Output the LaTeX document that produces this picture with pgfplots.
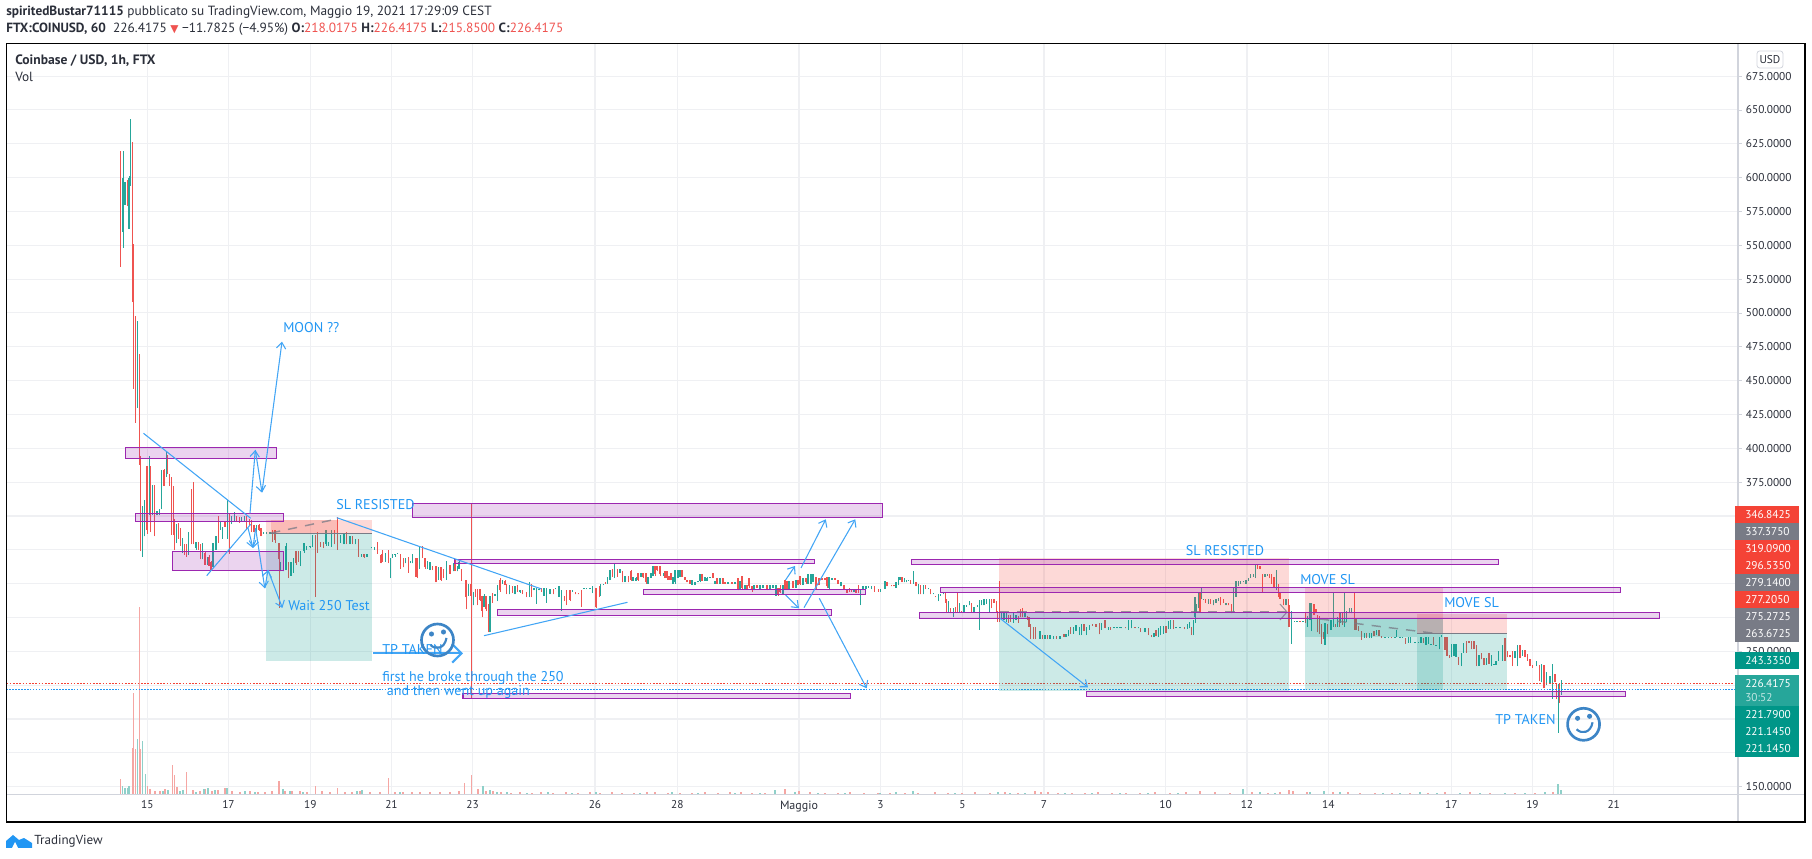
\documentclass[border=0pt]{standalone}
\usepackage{pgfplots}
\pgfplotsset{compat=1.18}
\usepackage{pgfplotstable}
\usepackage{fontspec}
\usetikzlibrary{arrows.meta}
\setmainfont{PT Sans}
\newfontfamily\sym{DejaVu Sans}
\definecolor{up}{HTML}{26A69A}
\definecolor{dn}{HTML}{EF5350}
\definecolor{tvb}{HTML}{42A5F5}
\definecolor{tvt}{HTML}{2196F3}
\definecolor{pur}{HTML}{9C27B0}
\definecolor{gridc}{HTML}{EFF0F3}
\definecolor{axc}{HTML}{D1D4DC}
\definecolor{txt}{HTML}{2A2E39}
\definecolor{tagr}{HTML}{F44336}
\definecolor{tagg}{HTML}{787B86}
\definecolor{tagt}{HTML}{009688}
\definecolor{tagl}{HTML}{26A69A}
\definecolor{smile}{HTML}{3D85C6}
\definecolor{posr}{HTML}{F44336}
\definecolor{post}{HTML}{009688}
\definecolor{grayl}{HTML}{787B86}
\definecolor{volr}{HTML}{F5A6A3}
\definecolor{volt}{HTML}{8FD0C9}

\pgfplotstableread{
x o h l c
120.5 620 620 534 535
123 560 620 548 600
125 580 597 580 597
127.5 597 598 579 579
129 562 601 562 600
130 595 643 594 600
132.4 552 626 508 508
133.6 551 551 444 444
135.5 498 498 419 420
137.4 431 494 430 494
139.3 394 470 388 388
140.3 394 394 324 345
142.3 336 357 320 357
144.7 335 362 335 360
147 387 387 337 340
149.3 351 394 351 394
150.7 387 387 338 340
152.7 351 373 351 373
154.7 373 373 335 340
157 351 354 351 354
159.3 351 355 351 355
161.7 355 384 355 384
164 384 385 372 372
166.3 380 398 379 398
167.7 395 395 381 381
169.7 381 381 372 372
171.7 379 379 336 372
173.3 372 372 336 345
174.3 348 348 325 330
176.3 330 344 330 344
178.3 344 345 333 334
180.7 340 341 328 329
182.7 324 334 323 334
184.7 329 329 321 322
186.7 329 329 320 321
188.7 322 338 321 338
191.7 370 370 329 335
193.3 375 375 329 340
196 326 331 325 331
198.3 331 331 325 326
200.7 329 329 318 318
202.7 318 330 318 330
205 323 324 314 314
207.3 314 320 314 320
209 320 321 313 313
211 316 317 310 310
213 312 330 312 330
216 325 335 325 335
218.3 350 350 330 332
220.3 340 346 340 346
222.3 333 342 333 342
225 346 346 342 342
227.7 335 362 333 352
229.3 352 352 322 335
231.7 344 350 344 350
234.3 346 353 346 353
236.7 350 350 346 346
239.3 349 349 345 345
241.7 346 349 346 349
244.3 346 350 346 350
246.7 350 350 340 340
249.3 348 348 343 343
251.7 347 347 338 340
254 343 343 338 338
256.7 338 343 338 343
259 343 344 339 340
261 341 341 335 335
263.3 337 338 337 338
266.7 337 338 337 338
270 337 338 337 338
272.7 340 340 331 333
275 340 340 330 332
279 330 330 282 318
280.7 309 316 309 316
283.3 309 316 309 316
286 310 330 310 328
288.3 316 316 304 305
291 306 316 306 316
293.3 308 319 308 319
296 324 324 314 315
298.3 324 324 316 317
300.7 313 324 313 324
304 324 330 323 330
306.7 325 328 325 328
310 327 328 326 328
312.7 327 336 327 336
315.3 336 336 290 328
317.3 338 338 323 329
320.7 330 331 327 328
323.3 330 331 326 327
326 329 340 328 340
328.3 328 331 328 331
331.7 328 340 327 339
334.3 340 340 329 330
337.3 349 349 325 330
340.7 330 336 330 335
344 329 337 329 337
346.7 337 338 329 330
350 329 335 329 335
352.7 335 335 329 330
355.7 329 333 329 333
358.7 333 333 320 325
361.7 320 322 320 322
364 322 322 319 320
367 320 322 320 322
371.7 326 327 326 327
374.7 326 327 325 326
377.3 331 331 322 323
381 321 322 315 315
382.7 325 325 316 317
385.7 316 323 316 323
388.3 325 325 315 316
390.3 304 319 304 319
392.3 319 322 319 322
395 321 322 320 322
397.7 322 323 322 323
400.7 322 322 311 311
403.3 319 319 312 312
405.7 315 319 315 319
408.3 320 320 308 309
410.3 316 317 315 317
412.7 315 322 315 322
415.3 319 319 305 305
417 319 319 304 305
419.7 311 328 311 328
422.3 328 328 319 320
425 319 319 311 312
427.3 311 317 311 317
430 310 316 310 316
432.3 313 313 310 310
436 313 313 301 301
438.3 303 312 303 312
441 312 312 302 303
443.3 311 311 304 304
446.7 303 317 303 317
450 314 314 307 307
453.3 309 315 309 315
455 318 318 309 309
457.3 309 313 309 313
459 311 317 311 316
461.7 310 311 302 302
466 303 303 281 290
468.3 291 300 291 300
471 300 359 215 291
473.3 284 294 284 293
475.3 296 296 290 290
477.3 296 296 284 285
480 296 296 287 288
482 291 291 275 280
484 283 292 283 291
486 291 291 280 281
488.3 285 285 264 270
490 264 291 264 291
492.7 292 293 286 287
495 291 292 291 292
497.3 287 299 287 299
500 303 304 294 295
502.7 300 303 300 303
505 302 303 299 299
506.7 300 300 292 293
509.3 292 299 292 299
512.3 297 298 293 293
515 292 298 292 298
517.3 298 299 294 294
520 294 295 293 295
522.7 295 295 292 293
526.7 294 294 290 290
529.3 290 301 290 300
531.7 300 300 290 291
534 295 297 295 297
536.7 285 297 285 297
539 295 296 295 296
541.7 296 297 294 295
544 291 297 291 297
546.7 286 297 286 296
550 292 296 292 296
553.3 296 296 292 292
555.3 296 297 296 297
559 290 298 290 298
561.7 280 295 280 295
564.3 291 291 287 288
566.7 295 295 284 285
570 295 295 287 288
572.7 294 295 294 295
575.7 294 294 292 292
578.3 293 293 292 292
581.7 295 295 283 284
584 296 297 296 297
586.7 296 297 296 297
590 296 297 296 297
592.7 293 298 293 298
596 297 297 282 283
599.3 298 298 290 291
600.7 291 300 291 300
603.3 299 300 299 300
605.7 301 301 300 300
607.7 300 305 300 305
610 303 310 303 310
612.3 311 311 305 305
614.3 304 315 304 315
617.3 311 311 305 305
620 308 311 308 311
622.3 309 309 301 301
625 301 306 301 306
628.3 306 306 301 301
631 309 310 302 303
633 302 305 302 305
636 302 305 302 304
638 308 308 302 303
641 305 308 305 308
643 308 308 304 305
646 308 308 300 301
648 300 305 300 305
651 304 308 304 308
653 306 313 306 313
655 313 313 306 307
657 313 313 309 310
660 313 313 306 307
663 307 308 306 307
665 309 309 304 304
667 309 309 303 304
669 306 306 303 303
671 308 308 303 303
673 300 305 300 305
675 301 310 300 310
678 304 310 304 310
680 305 310 305 310
682 310 310 305 305
685 305 305 303 303
687 303 303 301 301
690 303 303 300 300
692 299 303 299 303
695 299 301 299 301
698 301 302 301 302
700 302 307 301 307
702 307 307 302 302
705 302 305 302 305
707 302 305 302 304
710 304 305 304 305
713 308 308 304 304
715 300 302 300 302
717 304 304 300 300
720 300 304 300 304
723 304 304 300 300
725 301 301 300 300
728 300 301 300 301
732 301 301 300 300
735 300 301 300 301
738 304 304 295 296
740 296 302 296 302
742 306 306 296 297
745 296 299 296 299
747 299 299 296 296
749 304 304 297 298
752 298 298 294 295
754 295 299 295 299
757 299 299 297 297
760 296 299 296 299
763 297 299 297 299
767 299 299 295 296
770 296 299 296 299
773 297 299 297 299
776 291 299 291 299
778 297 297 291 292
780 297 299 293 294
783 292 299 292 299
785 303 303 296 296
787 302 302 296 296
789 296 302 296 302
793 302 302 297 297
796 297 303 297 303
798 303 303 299 299
800 306 306 299 300
803 299 304 299 304
806 304 304 300 301
808 300 307 300 307
811 300 307 300 307
813 301 307 301 307
816 305 305 296 297
819 304 304 299 299
822 304 304 303 303
825 304 304 303 303
827 305 305 297 298
829 297 305 295 305
832 303 304 303 304
835 304 304 303 303
838 303 303 300 300
841 298 301 298 301
844 299 299 296 296
847 296 296 293 293
849.3 297 297 294 294
851.7 296 296 294 294
854 294 296 294 296
856 295 295 293 293
858.7 295 299 293 293
860.7 292 296 284 296
863 295 298 295 298
866 296 298 296 298
868.7 297 298 297 298
871.7 296 298 296 298
874.3 298 298 294 294
878.3 296 296 294 294
880.7 294 296 294 296
885 296 302 296 302
887 301 301 298 298
891.7 299 299 298 298
894 299 299 298 298
896 297 301 297 301
898.3 299 305 299 305
900 303 305 303 305
902 305 305 301 301
904.3 301 304 301 304
906.7 301 303 301 303
908.3 302 303 302 303
910.7 303 303 300 300
913.3 301 309 300 304
916 301 301 298 298
918.3 292 300 292 300
920.7 299 299 292 292
923.3 292 299 292 299
925.3 299 299 296 296
928.3 296 297 296 297
930.7 296 296 292 292
933.3 292 293 292 292
935.7 291 291 290 290
938.3 287 292 287 292
940.7 291 292 291 292
943.3 292 293 292 293
945.7 293 293 286 286
946.7 289 289 279 279
948.3 279 287 279 287
950.7 282 282 278 278
953.3 278 282 275 282
955.7 283 283 279 279
957.3 293 293 279 279
959.3 279 286 279 286
961.7 280 280 279 279
964 279 284 279 284
966.7 283 284 283 284
969.3 284 287 284 287
971.7 286 286 279 279
974 279 283 279 283
977.3 283 284 283 284
979.3 281 288 266 288
981.7 284 288 284 288
984 284 289 284 289
986.7 285 289 285 289
989.3 279 289 279 289
991.7 289 289 282 282
994 289 289 286 286
996.7 287 287 279 279
997.7 280 280 272 272
999.3 281 302 272 272
1001.7 273 279 273 279
1004 273 279 273 279
1006.3 272 279 272 279
1008.3 277 277 271 271
1010.7 277 277 272 272
1013.3 271 278 271 278
1016 273 277 273 277
1018.3 276 276 271 271
1020.7 281 281 275 275
1022.7 282 282 275 275
1025 275 279 275 279
1027.3 276 276 273 273
1029 275 275 268 268
1030.7 270 270 259 259
1033.3 268 268 259 259
1035.7 268 268 259 259
1040 259 265 259 265
1042.3 262 262 259 259
1045 259 262 259 262
1047.3 262 262 259 259
1050 259 262 259 262
1053.3 259 261 259 261
1056.7 261 261 259 259
1060 259 261 259 261
1064 263 263 260.5 260.5
1066 260.5 263 260.5 263
1068.3 261 266 261 266
1070.7 268 268 263 263
1073.3 263 268 263 268
1076 265 269.5 265 269.5
1079.3 262 268 262 268
1081.7 262 270 262 270
1084 270 270 265 265
1086.7 262 268 262 268
1089.3 266 269.5 266 269.5
1092.7 270 270 269 269
1096 270 270 268 268
1099.3 271 271 262.5 262.5
1101.7 266 271 266 271
1105 273 273 267 267
1108.3 266 268 266 268
1110.7 268 268 266 266
1114 267 268 267 268
1117 267 268 267 268
1120 267 268 267 268
1121.7 267 268 267 268
1125.7 268 268 267 267
1128.3 266 273 266 273
1131.7 267 273 267 273
1135 268 268 267 267
1138.3 267 268 267 268
1140.7 267 267 264.5 264.5
1145 264 267 264 267
1148.3 267 267 262 262
1151.7 262.2 262.2 260.5 260.5
1154 260.5 263.4 260.5 263.4
1156 266 266 261 261
1158.3 260.5 267 260.5 267
1160.7 262 268.5 262 268.5
1163.3 263 269 263 269
1166 269 269 263.6 263.6
1168.3 266.4 272.6 266.4 272.6
1170.7 266.4 273 266.4 273
1173.3 273 273 266.4 266.4
1176 267 268 267 268
1180 267 268 267 268
1184.3 268 268 266.4 266.4
1187.3 266.4 270.4 266.4 270.4
1189.3 267 271.5 267 271.5
1191.7 268 268 262 262
1193.3 262 273 262 273
1195 275 290.5 271 290
1196.7 279 285 279 285
1198.3 282 294 282 294
1200 294 294 279 279
1201.7 288.5 296.7 288.5 296.7
1203.3 288 289 288 289
1205.7 289 289 286 286
1208.3 285 289 285 289
1210.7 289 289 285 285
1213.3 284 288 284 288
1216 286 289 286 289
1218.3 287 289.5 287 289.5
1220.7 290 290 284 284
1223.3 289 289 286 286
1226 284 286 284 286
1228.3 286 286 284 284
1231.7 285 285 278 278
1233.3 279 297 279 297
1236 290.5 301.6 290.5 301.6
1238.3 298 301.6 298 301.6
1240.7 300 301.6 300 301.6
1243.3 301 302 301 302
1246 300 303 300 303
1248.3 302 304 302 304
1250.7 304 307 304 307
1253.3 305 307 305 307
1255.3 304 314 304 314
1257.3 314 314 311 311
1260 313 313 310.6 310.6
1262.7 307 307 293.5 294
1265 305 307 305 307
1267.3 306 307 306 307
1269.3 307 307 304 304
1271.7 307 307 300 300
1274 305 305 297 297
1276.7 295 310 295 310
1278.3 300 300 290 290
1280 294 294 289 289
1283.3 289 289 284 284
1286 284 289 284 289
1288.3 289 289 268 268
1289.3 284 284 268 268
1291.3 270 280 255.5 280
1294.3 272 272.7 272 272.7
1297 272 272.7 272 272.7
1300 272.7 272.7 272 272
1303 272 272.7 272 272.7
1305.7 279 279 271 271
1307.7 268 276 268 276
1310 273 286 273 286
1311.7 265 286 265 286
1314 285 285 277 277
1316 281 281 278 278
1317.7 277 277 264 264
1319.5 276 276 263 263
1321.3 270 270 255.5 256
1323.3 264 264 259 259
1325 255 271 255 271
1327.3 270 270 263 263
1331 266 273 266 273
1333.3 268 293.5 268 275
1335.3 270 270 268 268
1337.3 268 275 268 275
1339.3 278 278 268 268
1340.7 271 278.5 271 278.5
1342.7 278 278 269.5 269.5
1344.7 270 293.5 268 278
1346.7 272 280 272 280
1349.3 278 281.7 278 281.7
1351.7 278 282 278 282
1354.3 275 293.5 266 266
1356 274 274 265.6 265.6
1358.7 269 269 265 265
1361.7 265 265 258.4 258.4
1364.3 260 263.7 260 263.7
1366.7 263.7 263.7 260 260
1369.3 259.7 263.7 259.7 263.7
1371.7 259.7 263.7 259.7 263.7
1374 265 265 261.4 261.4
1376.7 261.7 265.7 261.7 265.7
1379 265.7 265.7 261 261
1381.7 261 261 260 260
1385 260 260.7 260 260.7
1388.3 260 260.7 260 260.7
1391.7 260.7 260.7 260 260
1395 260 260.7 260 260.7
1396.7 260.5 265.7 260.5 265.7
1400 260 260.7 260 260.7
1402.7 260 260.7 260 260.7
1405.7 260 260 255.5 255.5
1408.3 256.4 260.5 256.4 260.5
1410.7 256.4 260.5 256.4 260.5
1415 256 256.7 256 256.7
1418.3 256.5 257.2 256.5 257.2
1421 256.5 260.5 256.5 260.5
1423.3 260 260 256.5 256.5
1426 254.7 260.5 254.7 260.5
1428.3 255.7 260.5 255.7 260.5
1431 255 255.7 255 255.7
1433.3 260.5 260.5 254.7 254.7
1436 254.2 254.9 254.2 254.9
1439.3 251.5 260.5 251.5 260.5
1441.7 260.5 262 260.5 262
1445 260.5 260.5 251 251
1447 260.5 260.5 246.6 246.6
1449.3 247 247 245 245
1451.7 246 255.5 246 255.5
1454 246.6 255.5 246.6 255.5
1456 246 255.5 246 255.5
1458.7 246 246 240 240
1461.3 239 249 239 249
1463.3 249 256 249 256
1466.7 257.5 257.5 249 249
1469 257.5 257.5 256 256
1471.7 257.5 257.5 251.5 251.5
1474 257.5 257.5 252 252
1476.7 255 255 239 239
1479 239 247 239 247
1481.3 249 249 244 244
1484 245 245 240 240
1486.7 240 245 240 245
1489 249 249 241 241
1491.7 239 247 239 247
1494 240 240.7 240 240.7
1496 240 243 240 243
1498.3 243 250.6 243 250.6
1502.3 243 254.6 243 254.6
1505 260 260 243 243
1507.7 250.6 250.6 245.6 245.6
1510 247 247 245.6 245.6
1512.7 250.6 250.6 239 239
1515 245 250.6 245 250.6
1517.3 239 255 239 255
1520 255 255 245 245
1522.3 246.6 251 246.6 251
1525 251 251 245.6 245.6
1527.3 248 248 243 243
1530 244 244 239 239
1532.7 240 240 238 238
1536.7 239 243 239 243
1539.3 240 240 228 228
1541.7 227 240.6 227 240.6
1544 239.6 239.6 222.6 222.6
1546.7 225 234.7 225 234.7
1550 226 232 226 232
1552.3 215 240.6 215 225
1555 233 233 227 227
1556.7 226 226 214.7 214.7
1558.7 215 226 189.7 226
1559.6 226 226 212 212
1561.3 218 229 218 226.4
}\candles

\pgfplotstableread{
x v
120.5 15
132.4 46
133.6 101
135.5 45
139.3 187
140.4 45
147.3 8
150 5
155 3
160 3
165 5
172.2 29
174.5 19
177 7
186.4 22
193 4
200 3
205 5
212 3
218 4
225 6
232 3
240 2
250 3
258 2
265 2
272 3
279 13
285 3
292 3
300 3
307 2
315.7 8
322 3
330 2
337.5 6
345 2
352 2
360 3
370 2
380 2
388.4 16
395 2
403 2
412 2
420 2
430 2
440 2
450 2
459 3
464.2 11
471.4 19
478 5
486 3
493 3
501 2
511 1
520 2
532 1
541 2
553 1
566 2
578 1
590 2
600 1
612 2
622 1
634 1
647 2
655 2
668 1
680 1
692 1
705 2
718 1
730 2
741 2
752 1
765 1
785 5
799 3
810 2
825 1
838 1
850 2
864 1
878 1
890 1
905 1
918 1
935 2
948 1
962 1
975 2
990 1
1005 2
1018 1
1035 3
1041 2
1048 2
1058 1
1072 1
1085 1
1098 2
1112 1
1126 1
1140 1
1155 2
1170 1
1186 2
1200 3
1215 2
1230 1
1252 2
1268 1
1280 2
1289 4
1293 3
1307 2
1333 2
1348 2
1360 1
1375 1
1392 1
1410 1
1428 1
1445 2
1470 2
1490 1
1515 1
1535 1
1553 2
}\volred

\pgfplotstableread{
x v
122.5 8
125 6
127.5 6
129 8
137.4 55
142.3 53
145.4 20
163 3
168 4
180 3
183 4
196 2
204 5
208 6
215 4
227 6
245 3
255 2
283 5
290 3
303 2
357 3
362 4
400 2
483 8
490 4
497 2
507 2
527 1
548 2
572 1
596 2
640 1
672 2
698 1
735 1
760 1
775 4
795 2
818 1
845 1
880 1
896 2
913 3
955 1
998 2
1010 1
1025 1
1065 1
1092 1
1120 1
1148 1
1178 1
1243 5
1260 2
1275 1
1310 2
1324 3
1340 2
1383 1
1400 1
1420 2
1437 1
1460 1
1480 1
1505 1
1525 1
1545 2
1558 10
1561 4
}\volteal

\newcommand{\C}[2]{(axis cs:#1,{400-(#2-448.3)/1.3535})}
\newcommand{\PB}[4]{\fill[pur,opacity=.2] \C{#1}{#3} rectangle \C{#2}{#4};\draw[pur,line width=1pt] \C{#1}{#3} rectangle \C{#2}{#4};}
\newcommand{\TG}[3]{\fill[#2] \C{1735}{#1-8.5} rectangle \C{1799.4}{#1+8.5};\node[anchor=west,inner sep=0pt,text=white,font=\ticksz] at \C{1745}{#1} {#3};}
\newcommand{\BT}[3]{\node[anchor=west,inner sep=0pt,text=tvt,font=\anno] at \C{#1}{#2} {#3};}
\newcommand{\ticksz}{\fontsize{8.5}{11}\selectfont}
\newcommand{\anno}{\fontsize{10.6}{12}\selectfont}
\newcommand{\SMILEY}[2]{%
 \draw[smile,line width=2pt] \C{#1}{#2} circle[radius=12pt];
 \fill[smile] \C{#1-6}{#2-6} circle[radius=1.9pt];
 \fill[smile] \C{#1+6}{#2-8} circle[radius=1.9pt];
 \draw[smile,line width=1.6pt] \C{#1-7}{#2+5} .. controls \C{#1-2}{#2+10} and \C{#1+7}{#2+9} .. \C{#1+9}{#2-2};}
\tikzset{arr/.style={tvb,line width=.8pt,-{Straight Barb[length=4.5pt,width=7pt]}},lin/.style={tvb,line width=.8pt},
 dsh/.style={grayl,line width=1.1pt,dash pattern=on 7pt off 6pt,opacity=.75}}

\begin{document}
\begin{tikzpicture}
\useasboundingbox (0,0) rectangle (1359pt,644.25pt);
\begin{axis}[
 at={(4.875pt,48.75pt)},anchor=south west,
 scale only axis,width=1298.625pt,height=563.25pt,
 xmin=6.5,xmax=1738,ymin=144.59,ymax=699.45,
 clip mode=individual,
 axis line style={draw=none},
 xtick={147.3,228.5,310.4,391.5,472.6,595,677.3,799,880.5,962.4,1044,1165.6,1247,1328.4,1451.3,1532.5,1613.7},
 xticklabels={15,17,19,21,23,26,28,{\fontsize{9}{11}\selectfont Maggio},3,5,7,10,12,14,17,19,21},
 ytick={150,175,200,225,250,275,300,325,350,375,400,425,450,475,500,525,550,575,600,625,650,675},
 yticklabels={150.0000,,,,250.0000,,,,,375.0000,400.0000,425.0000,450.0000,475.0000,500.0000,525.0000,550.0000,575.0000,600.0000,625.0000,650.0000,675.0000},
 yticklabel pos=right,ytick pos=right,
 xtick pos=bottom,
 tick align=outside,
 major tick length=3pt,
 x tick style={draw=none},
 y tick style={draw=axc,line width=.6pt},
 xmajorgrids,ymajorgrids,
 major grid style={draw=gridc,line width=.8pt},
 tick label style={font=\ticksz,text=txt},
 xticklabel style={yshift=1.5pt},
 yticklabel style={xshift=-.6pt},
 /pgf/number format/assume math mode=true,
]
% volume
\addplot[ycomb,volr,line width=.85pt,forget plot] table[x=x,y expr=144.59+\thisrow{v}/1.3535] {\volred};
\addplot[ycomb,volt,line width=.85pt,forget plot] table[x=x,y expr=144.59+\thisrow{v}/1.3535] {\volteal};
% candles
\addplot[draw=none,mark=none,forget plot,error bars/.cd,y dir=plus,y explicit,error mark=none,error bar style={up,line width=.6pt}]
 table[x=x,y expr={\thisrow{c}>=\thisrow{o}?\thisrow{l}:nan},y error plus expr=\thisrow{h}-\thisrow{l}] {\candles};
\addplot[draw=none,mark=none,forget plot,error bars/.cd,y dir=plus,y explicit,error mark=none,error bar style={dn,line width=.6pt}]
 table[x=x,y expr={\thisrow{c}<\thisrow{o}?\thisrow{l}:nan},y error plus expr=\thisrow{h}-\thisrow{l}] {\candles};
\addplot[draw=none,mark=none,forget plot,error bars/.cd,y dir=plus,y explicit,error mark=none,error bar style={up,line width=1.15pt}]
 table[x=x,y expr={\thisrow{c}>=\thisrow{o}?\thisrow{o}:nan},y error plus expr=\thisrow{c}-\thisrow{o}] {\candles};
\addplot[draw=none,mark=none,forget plot,error bars/.cd,y dir=plus,y explicit,error mark=none,error bar style={dn,line width=1.15pt}]
 table[x=x,y expr={\thisrow{c}<\thisrow{o}?\thisrow{c}:nan},y error plus expr=\thisrow{o}-\thisrow{c}] {\candles};

% price lines
\draw[tagr,line width=1pt,dash pattern=on 1.2pt off 1.2pt] \C{6.5}{683.3} -- \C{1738}{683.3};
\draw[tvt,line width=.9pt,dash pattern=on 1.1pt off 1.1pt] \C{6.5}{689.3} -- \C{1738}{689.3};

% position 1
\fill[posr,opacity=.2] \C{266}{520} rectangle \C{372}{533.7};
\fill[posr,opacity=.2] \C{271}{520} rectangle \C{337}{533.7};
\fill[post,opacity=.2] \C{266}{533.7} rectangle \C{372}{660.7};
\draw[grayl,line width=.9pt] \C{271}{533.7} -- \C{372}{533.7};
\draw[dsh] \C{271}{533} -- \C{337}{519};
% position 2
\fill[posr,opacity=.2] \C{999.2}{558.3} rectangle \C{1289}{612.3};
\fill[post,opacity=.2] \C{999.2}{612.3} rectangle \C{1289}{690.7};
\draw[grayl,line width=1.1pt] \C{999.2}{612.3} -- \C{1289}{612.3};
\draw[dsh] \C{1000}{612} -- \C{1286}{612};
\draw[grayl,line width=.8pt,opacity=.75] \C{1280}{604} -- \C{1287}{612} -- \C{1280}{620};
% position 3
\fill[posr,opacity=.2] \C{1305}{587.3} rectangle \C{1443}{618.3};
\fill[post,opacity=.2] \C{1305}{618.3} rectangle \C{1443}{690};
\fill[post,opacity=.2] \C{1305}{618.3} rectangle \C{1417}{636.7};
% position 4
\fill[posr,opacity=.2] \C{1417}{614} rectangle \C{1507.5}{633.3};
\fill[post,opacity=.2] \C{1417}{633.3} rectangle \C{1507.5}{690};
\fill[grayl,opacity=.3] \C{1417}{618.3} rectangle \C{1443}{633.3};
\draw[grayl,line width=1.1pt] \C{1305}{618.3} -- \C{1443}{618.3};
\draw[grayl,line width=.9pt] \C{1417}{633.3} -- \C{1507.5}{633.3};
\draw[dsh] \C{1320}{619} -- \C{1440}{634};

% purple zones
\PB{125.5}{276.3}{447.3}{458.3}
\PB{135.5}{283.6}{513.3}{521.3}
\PB{172.2}{283.6}{551.3}{570.3}
\PB{412.6}{882.4}{503.3}{517.3}
\PB{454.3}{814.7}{559.3}{563.7}
\PB{497.5}{831.5}{609.3}{615.3}
\PB{463}{850.7}{693.3}{698.3}
\PB{643.2}{865.2}{589.3}{594.3}
\PB{911.5}{1498.5}{559.3}{564.3}
\PB{940.6}{1620.7}{587.3}{592.7}
\PB{919.6}{1659.7}{612.3}{618.3}
\PB{1086.4}{1625.4}{691.3}{696.7}

% trend lines and arrows
\draw[lin] \C{143.5}{433.3} -- \C{250.7}{518.3};
\draw[lin] \C{206.7}{575.7} -- \C{250.7}{524.3};
\draw[arr] \C{250}{513.3} -- \C{255.3}{450};
\draw[arr] \C{255.3}{450} -- \C{262}{492.7};
\draw[arr] \C{262}{492} -- \C{282}{341.7};
\draw[arr] \C{248}{528} -- \C{253}{548};
\draw[arr] \C{255.6}{528.3} -- \C{253}{548};
\draw[arr] \C{255.6}{528.3} -- \C{264.8}{588.3};
\draw[arr] \C{265}{588} -- \C{268}{570};
\draw[arr] \C{268}{570} -- \C{282.4}{608};
\draw[lin] \C{336.8}{517.7} -- \C{541.5}{589};
\draw[lin] \C{484}{635.7} -- \C{627.5}{602.3};
\draw[tvb,line width=1.6pt,-{Straight Barb[length=7pt,width=14pt]}] \C{373}{653.3} -- \C{463}{653.3};
\draw[arr] \C{785.6}{580} -- \C{795}{566};
\draw[arr] \C{801}{568} -- \C{825.8}{519.3};
\draw[arr] \C{785.6}{595} -- \C{799}{608.3};
\draw[arr] \C{804}{607.7} -- \C{855.3}{519.3};
\draw[arr] \C{819.3}{598.3} -- \C{866.7}{688.3};
\draw[arr] \C{1000}{618.3} -- \C{1088}{687.3};

% annotations
\BT{283}{328}{MOON ??}
\BT{336}{505}{SL RESISTED}
\BT{288}{606}{Wait 250 Test}
\BT{382}{650}{TP TAKEN}
\BT{382}{678}{first he broke through the 250}
\BT{386.5}{692.3}{and then went up again}
\BT{1185.5}{551}{SL RESISTED}
\BT{1300}{580}{MOVE SL}
\BT{1444}{603}{MOVE SL}
\BT{1495}{720}{TP TAKEN}
\SMILEY{437.5}{640}
\SMILEY{1583.6}{724.3}

% frame and scales
\draw[axc,line width=.8pt] \C{6.5}{794.3} -- \C{1805}{794.3};
\draw[axc,line width=.8pt] \C{1738}{43} -- \C{1738}{822};
\draw[black,line width=1.1pt] \C{6.5}{43.5} rectangle \C{1805}{822};
\draw[axc,line width=.6pt,rounded corners=2pt] \C{1757}{51} rectangle \C{1783}{68};
\node[inner sep=0pt,text=txt,font=\fontsize{8.5}{10}\selectfont] at \C{1770}{59.5} {USD};

% price tags
\TG{514.7}{tagr}{346.8425}
\TG{531.7}{tagg}{337.3750}
\TG{548.7}{tagr}{319.0900}
\TG{565.7}{tagr}{296.5350}
\TG{582.7}{tagg}{279.1400}
\TG{599.7}{tagr}{277.2050}
\TG{616.7}{tagg}{275.2725}
\TG{633.7}{tagg}{263.6725}
\TG{660.7}{tagt}{243.3350}
\fill[tagl] \C{1735}{675} rectangle \C{1799.4}{706};
\node[anchor=west,inner sep=0pt,text=white,font=\ticksz] at \C{1745}{683.7} {226.4175};
\node[anchor=west,inner sep=0pt,text=white,opacity=.7,font=\ticksz] at \C{1745}{697.7} {30:52};
\TG{714.7}{tagt}{221.7900}
\TG{731.7}{tagt}{221.1450}
\TG{748.7}{tagt}{221.1450}

% headers
\node[anchor=west,inner sep=0pt,text=txt,font=\fontsize{10}{11}\selectfont] at \C{6}{12.5} {\textbf{spiritedBustar71115} pubblicato su TradingView.com, Maggio 19, 2021 17:29:09 CEST};
\node[anchor=west,inner sep=0pt,text=txt,font=\fontsize{10}{11}\selectfont] at \C{6}{29.5} {\textbf{FTX:COINUSD, 60}\ \ 226.4175 \textcolor{dn}{\sym\fontsize{8}{10}\selectfont ▼} −11.7825 (−4.95\%) \textbf{O:}\textcolor{dn}{218.0175} \textbf{H:}\textcolor{dn}{226.4175} \textbf{L:}\textcolor{dn}{215.8500} \textbf{C:}\textcolor{dn}{226.4175}};
\node[anchor=west,inner sep=0pt,text=txt,font=\fontsize{10.2}{11}\selectfont] at \C{15}{60.5} {\textbf{Coinbase / USD, 1h, FTX}};
\node[anchor=west,inner sep=0pt,text=txt,font=\fontsize{10}{11}\selectfont] at \C{15}{77} {Vol};
% logo
\fill[tvt] \C{6}{848} -- \C{6}{841} -- \C{13}{835} -- \C{19}{840} -- \C{24}{838} -- \C{32}{843} -- \C{32}{848} -- cycle;
\fill[white] \C{12}{848} -- \C{15}{842} -- \C{18}{848} -- cycle;
\node[anchor=west,inner sep=0pt,text=txt,font=\fontsize{9.8}{11}\selectfont] at \C{34}{841} {TradingView};
\end{axis}
\end{tikzpicture}
\end{document}
